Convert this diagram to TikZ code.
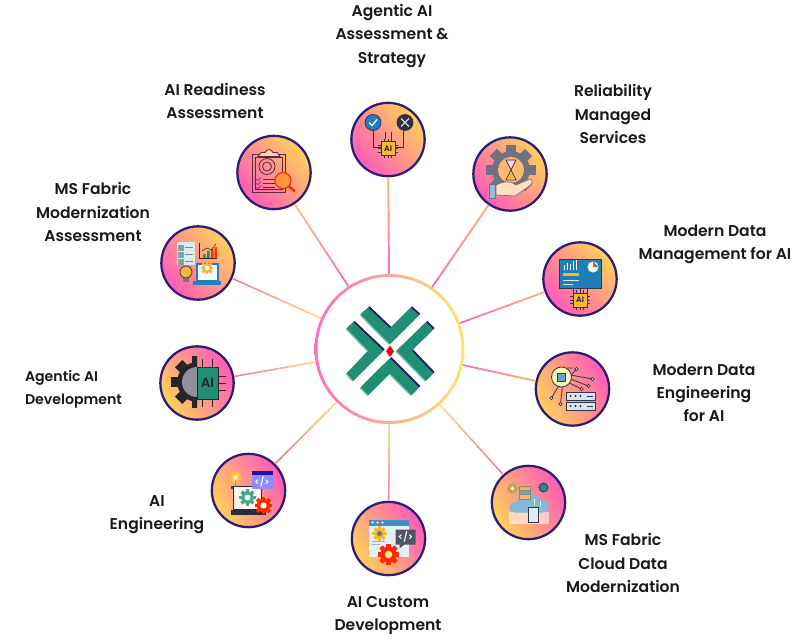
\documentclass[tikz,border=0pt]{standalone}
\usepackage{fontspec}
\setmainfont{Poppins}[BoldFont={Poppins SemiBold}]
\usetikzlibrary{calc,arrows}

\definecolor{ink}{HTML}{34364A}
\definecolor{rimblue}{HTML}{2D1B78}
\definecolor{pinkish}{HTML}{FF5BB8}
\definecolor{yellowish}{HTML}{FFD05A}
\definecolor{hubpink}{HTML}{FF6EBE}
\definecolor{hubyellow}{HTML}{FFE46E}
\definecolor{wirepink}{HTML}{F76FB0}
\definecolor{wireyellow}{HTML}{FFD98A}
\definecolor{leaf}{HTML}{1F8F73}
\definecolor{chipgold}{HTML}{F7B733}
\definecolor{skyblue}{HTML}{1F7FB8}

\tikzset{
  hub/.style={circle, minimum size=112.5pt, inner sep=0, left color=hubpink, right color=hubyellow},
  hubface/.style={circle, minimum size=108pt, inner sep=0, fill=white},
  satup/.style={circle, minimum size=55pt, inner sep=0, draw=rimblue, line width=1.7pt,
    bottom color=pinkish, top color=yellowish, shading angle=-50},
  satdown/.style={circle, minimum size=55pt, inner sep=0, draw=rimblue, line width=1.7pt,
    bottom color=yellowish, top color=pinkish, shading angle=-60},
  caption/.style={align=center, font=\fontsize{11.7}{17.3}\selectfont\bfseries, text=black!90},
  wire/.style={line width=1.1pt},
  thin ink/.style={draw=ink, line width=.6pt},
  tiny text/.style={inner sep=0, font=\fontsize{6}{6}\selectfont\bfseries, text=black!85}
}

% gear: x, y, radius, colour, hole colour
\newcommand{\gear}[5]{
  \foreach \ang in {0,45,...,315}
    \fill[#4, shift={(#1,#2)}, rotate=\ang] ({-#3*.24},{#3*.6}) rectangle ({#3*.24},{#3*1.18});
  \fill[#4] (#1,#2) circle ({#3*.9});
  \fill[#5] (#1,#2) circle ({#3*.42});
}
% chip with AI text: name, x, y, half size
\newcommand{\chipai}[4]{
  \foreach \off in {-.5,0,.5} {
    \draw[thin ink] ({#2+\off*#4},{#3-#4}) -- ++(0,{-#4*.4});
    \draw[thin ink] ({#2+\off*#4},{#3+#4}) -- ++(0,{#4*.4});
    \draw[thin ink] ({#2-#4},{#3+\off*#4}) -- ++({-#4*.4},0);
    \draw[thin ink] ({#2+#4},{#3+\off*#4}) -- ++({#4*.4},0);
  }
  \filldraw[fill=chipgold, thin ink] ({#2-#4},{#3-#4}) rectangle ({#2+#4},{#3+#4});
  \node[tiny text] (#1) at (#2,#3) {AI};
}
% connector with colour running from one end to the other
\newcommand{\wireup}[4]{
  \draw[wire, #3] (#1) -- (#2);
  \path (#1) -- (#2) coordinate[pos=0] (w0) coordinate[pos=1] (w1);
  \foreach \seg in {0,...,9} {
    \pgfmathtruncatemacro{\pct}{\seg*10}
    \pgfmathsetmacro{\upfrom}{\seg/10}
    \pgfmathsetmacro{\upto}{min(1,(\seg+1.1)/10)}
    \colorlet{wirenow}{#4}
    \colorlet{wirenow}{wirenow!\pct!#3}
    \draw[wire, wirenow] ($(w0)!\upfrom!(w1)$) -- ($(w0)!\upto!(w1)$);
  }
}
% one arm of the logo
\newcommand{\leafarm}[1]{
  \fill[rimblue!80!black, shift={(4,-4)}] #1;
  \fill[leaf!60!white, shift={(-3,3)}] #1;
  \fill[leaf] #1;
}

\begin{document}
\begin{tikzpicture}[x=0.75pt, y=-0.75pt]
\useasboundingbox (0,0) rectangle (800,639);

\node[hub] at (389.5,349) (hub) {};
\node[hubface] at (hub) (hubinner) {};

\node[satup] at (388,139.5) (agenticassess) {};
\node[satup] at (510,174) (reliability) {};
\node[satup] at (580,279) (datamgmt) {};
\node[satdown] at (572.5,389) (dataeng) {};
\node[satdown] at (528.5,502.5) (cloudmod) {};
\node[satdown] at (388.5,538.5) (customdev) {};
\node[satdown] at (248.5,490.5) (aieng) {};
\node[satdown] at (197,383) (agenticdev) {};
\node[satup] at (198,263) (fabricassess) {};
\node[satup] at (274,172.5) (readiness) {};

\wireup{hub}{agenticassess}{wirepink}{wireyellow!70!orange}
\wireup{hub}{reliability}{wirepink}{wireyellow!70!orange}
\wireup{hub}{datamgmt}{wirepink}{wireyellow!70!orange}
\wireup{hub}{dataeng}{wirepink}{wireyellow!70!orange}
\wireup{hub}{cloudmod}{wireyellow}{wirepink}
\wireup{hub}{customdev}{wireyellow}{wirepink}
\wireup{hub}{aieng}{wireyellow}{wirepink!70!orange}
\wireup{hub}{agenticdev}{wireyellow}{wirepink}
\wireup{hub}{fabricassess}{wireyellow}{wirepink}
\wireup{hub}{readiness}{wirepink}{wireyellow!90!orange}

% logo
\begin{scope}[shift={(300,260)}, scale=1/3]
\leafarm{(182,163) -- (205,143) -- (270,205) -- (332,143) -- (357,165) -- (270,252) -- cycle}
\leafarm{(140,205) -- (160,187) -- (250,272) -- (160,362) -- (140,340) -- (205,272) -- cycle}
\leafarm{(400,208) -- (378,187) -- (290,272) -- (378,362) -- (400,340) -- (335,272) -- cycle}
\leafarm{(182,382) -- (270,295) -- (357,382) -- (335,405) -- (270,340) -- (205,405) -- cycle}
\fill[red!60!purple] (270,257) -- (282,274) -- (270,291) -- (258,274) -- cycle;
\end{scope}

% assessment and strategy
\begin{scope}[shift={(agenticassess.center)}]
\draw[thin ink] (-5,8) -- (-15,8) -- (-15,-9);
\draw[thin ink] (5,8) -- (15,8) -- (15,-9);
\draw[thin ink] (-3,-1) -- (-3,-8) (3,-1) -- (3,-8);
\filldraw[fill=skyblue, thin ink] (-15,-17) circle (8);
\filldraw[fill=ink!90!black, thin ink] (17,-17) circle (8);
\draw[white, line width=1pt] (-19,-17) -- (-16,-14) -- (-11,-20);
\draw[white!85!black, line width=1pt] (13,-21) -- (21,-13) (21,-21) -- (13,-13);
\chipai{agenticchip}{0}{9}{7}
\end{scope}

% hand with gear
\begin{scope}[shift={(reliability.center)}]
\gear{1}{-4}{21}{ink!70!white}{white}
\fill[orange!55!white] (1,-4) circle (13);
\filldraw[fill=pinkish!30!white, thin ink] (-4,-14) -- (6,-14) -- (1,-4) -- (6,6) -- (-4,6) -- (1,-4) -- cycle;
\fill[chipgold] (-3,5) -- (5,5) -- (1,-2) -- cycle;
\filldraw[fill=orange!25!white, draw=ink!70!white, line width=.5pt] (-14,11) .. controls (-5,6) and (3,8) .. (6,11) -- (20,5) .. controls (24,6) and (22,11) .. (18,13) -- (5,22) -- (-14,21) -- cycle;
\filldraw[fill=skyblue!50!white, draw=ink!70!white, line width=.5pt] (-21,10) rectangle (-15,24);
\end{scope}

% dashboard
\begin{scope}[shift={(datamgmt.center)}]
\draw[thin ink] (-7,9) -- (-7,15) (0,9) -- (0,15) (7,9) -- (7,15);
\filldraw[fill=skyblue, thin ink] (-21,-20) rectangle (21,9);
\foreach \xx/\hh in {-16/5,-13/7,-10/6,-7/9,-4/10}
  \draw[white, line width=.5pt] (\xx,-9) -- ++(0,-\hh);
\fill[white] (13,-12) circle (5.5);
\fill[orange!80!black] (13,-12) -- (13,-17.5) -- (18.5,-12) -- cycle;
\fill[chipgold] (-17,-6) rectangle (-1,-3);
\draw[white!80!skyblue, line width=.6pt] (-17,1) -- (-1,1) (-17,5) -- (-7,5);
\chipai{mgmtchip}{0}{21}{7}
\end{scope}

% circuit and servers
\begin{scope}[shift={(dataeng.center)}]
\draw[thin ink] (-6,-21) -- (0,-21) (-3,-12) -- (4,-20) (-2,-14) -- (20,-10) (-2,-10) -- (16,-3) (-3,-6) -- (9,0) (-14,-3) -- (-21,9) (-10,-3) -- (-12,15);
\foreach \xx/\yy in {4/-20,20/-10,16/-3,9/0,-21/9,-12/15}
  \filldraw[fill=yellowish!40!white, thin ink] (\xx,\yy) circle (1.6);
\filldraw[fill=yellow!30!white, thin ink] (-11,-12) circle (10);
\filldraw[fill=skyblue!70!white, thin ink] (-15,-16) rectangle (-7,-8);
\foreach \yy in {3,13} {
  \filldraw[fill=skyblue!20!white, thin ink] (-6,\yy) rectangle (23,{\yy+8.5});
  \foreach \xx in {-2,3,8}
    \fill[ink] (\xx,{\yy+4}) circle (1.2);
  \draw[ink, line width=.7pt] (14,{\yy+4}) -- (20,{\yy+4});
}
\end{scope}

% cloud
\begin{scope}[shift={(cloudmod.center)}]
\fill[white, opacity=.55] (-20,9) rectangle (20,21);
\fill[skyblue!55!white] (-14,10) .. controls (-22,9) and (-21,-1) .. (-12,-1) .. controls (-10,-11) and (8,-12) .. (11,-3) .. controls (22,-4) and (24,10) .. (14,10) -- cycle;
\filldraw[fill=chipgold, draw=ink!60!white, line width=.3pt] (-9,-16) rectangle (2,-12);
\filldraw[fill=leaf!70!white, draw=ink!60!white, line width=.3pt] (-9,-12) rectangle (2,-8);
\filldraw[fill=orange!60!white, draw=ink!60!white, line width=.3pt] (-9,-8) rectangle (2,-3);
\filldraw[fill=white!85!skyblue, thin ink] (0,5) rectangle (10,20);
\draw[white, line width=.8pt] (6,2) -- (6,-4) (12,3) -- (12,-2);
\gear{-16}{-14}{4.5}{chipgold!70!leaf}{white}
\filldraw[fill=leaf!70!skyblue, thin ink] (15,-15) circle (4.5);
\end{scope}

% browser and code
\begin{scope}[shift={(customdev.center)}]
\fill[white!88!skyblue] (-20,-19) rectangle (20,18);
\fill[skyblue!85!white] (-20,-19) rectangle (20,-13);
\foreach \xx in {-16,-11,-6}
  \fill[white] (\xx,-16) circle (1.1);
\gear{-9}{-5}{6}{chipgold}{ink!70!white}
\draw[ink!40!white, line width=.8pt] (-17,3) -- (-4,3) (-17,6) -- (-9,6);
\fill[ink!85!white] (7,-9) rectangle (27,6) (11,6) -- (16,6) -- (11,10) -- cycle;
\node[tiny text, text=white, font=\fontsize{7}{7}\selectfont\bfseries] (customcode) at (17,-1.5) {</>};
\gear{0}{16}{9}{red!70!orange}{yellowish!60!white}
\end{scope}

% laptop with code window
\begin{scope}[shift={(aieng.center)}]
\fill[chipgold!90!white] (-13,-13) circle (6);
\fill[white!80!orange] (-13,-13) circle (2.5);
\draw[ink!50!white, line width=.7pt] (-13,-10) -- (-13,-4);
\fill[rimblue!60!skyblue] (-18,-5) rectangle (-10,-2);
\filldraw[fill=white!92!orange, draw=ink!80!black, line width=1.1pt] (-15,-4) rectangle (13,19);
\fill[ink!80!black] (-18,19) rectangle (17,24);
\gear{-1}{7}{7}{leaf!80!white}{white}
\fill[blue!45!white] (3,-20) rectangle (24,-2);
\fill[rimblue!70!blue] (3,-20) rectangle (24,-16);
\node[tiny text, text=white, font=\fontsize{7}{7}\selectfont\bfseries] (engcode) at (13.5,-9) {</>};
\gear{15}{15}{7.5}{red!70!orange}{white}
\end{scope}

% gear with chip
\begin{scope}[shift={(agenticdev.center)}]
\begin{scope}
\clip (-30,-30) rectangle (0,30);
\gear{0}{-1}{22}{black!85}{black!85}
\fill[ink!55!white] (0,-1) circle (15);
\end{scope}
\foreach \yy in {-7,0,7}
  \draw[black!85, line width=.7pt] (21,\yy) -- (29,\yy);
\foreach \xx in {5,15} {
  \draw[black!85, line width=.7pt] (\xx,-16) -- (\xx,-24);
  \draw[black!85, line width=.7pt] (\xx,16) -- (\xx,24);
}
\filldraw[fill=leaf, draw=black!85, line width=.7pt] (0,-16) rectangle (21,16);
\node[tiny text, font=\fontsize{10}{10}\selectfont\bfseries] (devchip) at (10.5,0) {AI};
\end{scope}

% checklist chart and laptop
\begin{scope}[shift={(fabricassess.center)}]
\fill[white!85!skyblue] (-21,-21) rectangle (-3,2);
\foreach \yy in {-18,-11,-4} {
  \filldraw[fill=leaf!70!white, draw=ink!50!white, line width=.3pt] (-20,\yy) rectangle (-15,{\yy+5});
  \draw[ink!60!white, line width=.9pt] (-13,{\yy+2.5}) -- (-5,{\yy+2.5});
}
\draw[ink!80!black, line width=.5pt] (1,-20) -- (1,-5) -- (19,-5);
\fill[leaf] (5,-5) rectangle ++(2.5,-4) (9,-5) rectangle ++(2.5,-7);
\fill[red!60!orange] (13,-5) rectangle ++(2.5,-9) (16.5,-5) rectangle ++(2.5,-11);
\draw[ink!80!black, line width=.4pt] (4,-12) -- (9,-15) -- (13,-13) -- (18,-19);
\filldraw[fill=chipgold, thin ink] (-12,9) circle (6);
\fill[ink!70!white] (-15,15) rectangle (-9,19);
\filldraw[fill=white!95!skyblue, draw=skyblue, line width=1pt] (-1,1) rectangle (20,18);
\fill[skyblue] (-5,18) rectangle (23,22);
\gear{9}{5}{5.5}{chipgold}{white}
\end{scope}

% clipboard with magnifier
\begin{scope}[shift={(readiness.center)}]
\draw[ink!70!purple, line width=.7pt] (-22,-18) rectangle (11,20) (-19,-15) rectangle (8,17);
\filldraw[fill=orange!35!white, draw=ink!70!purple, line width=.6pt] (-16,-16) -- (-13,-20) -- (-9,-20) .. controls (-7,-24) and (-3,-24) .. (-1,-20) -- (3,-20) -- (6,-16) -- cycle;
\draw[ink!70!purple, line width=.6pt] (-7,-6) circle (8) (-7,-6) circle (4.5);
\foreach \yy in {7,11,15} {
  \draw[ink!70!purple, line width=.4pt] (-18,\yy) -- (-16,{\yy+1}) -- (-13,{\yy-2});
  \draw[ink!70!purple, line width=.6pt] (-11,\yy) -- (1,\yy);
}
\draw[red!65!orange, line width=1.8pt] (14,13) -- (21,19);
\filldraw[fill=orange!65!pink, draw=red!65!orange, line width=.9pt] (9,8) circle (8);
\end{scope}

% captions
\node[caption] at (392,36) (capagentic) {Agentic AI\\Assessment \&\\Strategy};
\node[caption] at (215,100.5) (capreadiness) {AI Readiness\\Assessment};
\node[caption] at (613,114) (capreliability) {Reliability\\Managed\\Services};
\node[caption] at (93,212) (capfabric) {MS Fabric\\Modernization\\Assessment};
\node[caption] at (715,244.5) (capmgmt) {Modern Data\\Management for AI};
\node[caption, align=left, font=\fontsize{10.6}{17.3}\selectfont\bfseries] at (73.5,389.5) (capdev) {Agentic AI\\Development};
\node[caption] at (704,393) (capeng) {Modern Data\\Engineering\\for AI};
\node[caption] at (157,514.5) (capaieng) {AI\\Engineering};
\node[caption] at (623,563) (capcloud) {MS Fabric\\Cloud Data\\Modernization};
\node[caption] at (388,615.5) (capcustom) {AI Custom\\Development};

\end{tikzpicture}
\end{document}
